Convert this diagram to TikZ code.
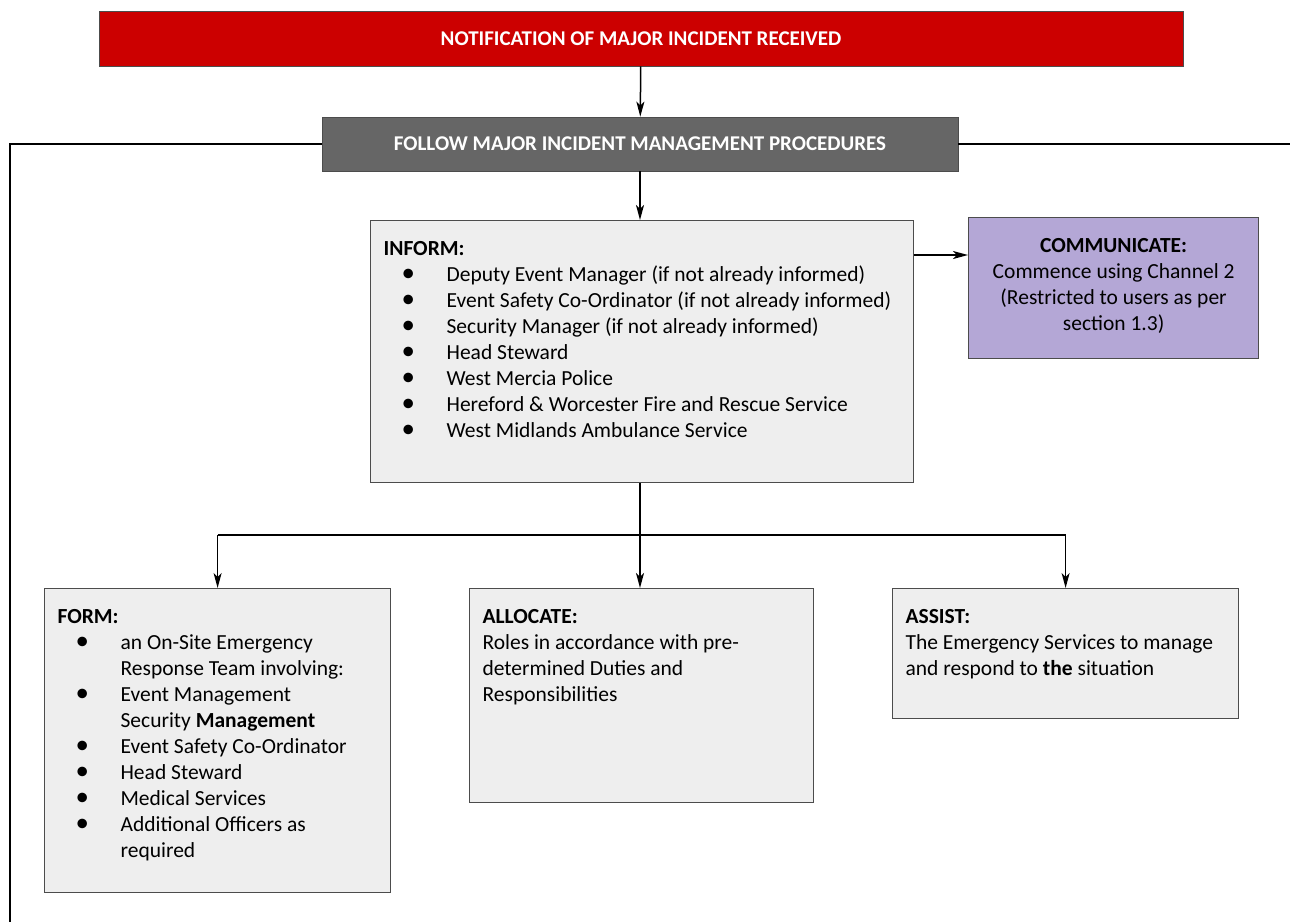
\documentclass[tikz,border=0pt]{standalone}
\usepackage{fontspec}
\setmainfont{Carlito}
\usetikzlibrary{arrows.meta}

\definecolor{alertred}{HTML}{CC0000}
\definecolor{stepgray}{HTML}{666666}
\definecolor{boxgray}{HTML}{EEEEEE}
\definecolor{commpurple}{HTML}{B4A7D6}

\newcommand{\blt}{\par\leftskip=63pt\noindent\llap{\makebox[45pt][l]{\scalebox{1.25}{\textbullet}}}}

\begin{document}
\begin{tikzpicture}[x=1pt,y=-1pt,
    head/.style={draw=black!70, line width=0.8pt, text=white, inner sep=0pt,
        font=\fontsize{21}{24}\selectfont\bfseries},
    box/.style={draw=black!70, line width=1.2pt, fill=boxgray, anchor=north west,
        inner xsep=13pt, inner ysep=21pt, font=\fontsize{21.5}{26}\selectfont},
    arr/.style={-{Stealth[length=15pt,width=8pt,inset=4pt]}, line width=1.5pt},
    link/.style={line width=1.5pt}]
    \useasboundingbox (0,0) rectangle (1290,922);

    % Nodes
    \node[head, fill=alertred, minimum width=1084pt, minimum height=55pt] (notify) at (641,38.5)
        {NOTIFICATION OF MAJOR INCIDENT RECEIVED};
    \node[head, fill=stepgray, minimum width=636pt, minimum height=54pt] (follow) at (640,144)
        {FOLLOW MAJOR INCIDENT MANAGEMENT PROCEDURES};

    \node[box] (inform) at (370,220) {\begin{minipage}[c][220pt][t]{517pt}
        \textbf{INFORM:}
        \blt Deputy Event Manager (if not already informed)
        \blt Event Safety Co-Ordinator (if not already informed)
        \blt Security Manager (if not already informed)
        \blt Head Steward
        \blt West Mercia Police
        \blt Hereford \& Worcester Fire and Rescue Service
        \blt West Midlands Ambulance Service
    \end{minipage}};
    \node[box, fill=commpurple] (communicate) at (968,217) {\begin{minipage}[c][99pt][t]{264pt}
        \centering\textbf{COMMUNICATE:}\\
        Commence using Channel 2\\
        (Restricted to users as per\\
        section 1.3)
    \end{minipage}};

    \node[box] (form) at (44,588) {\begin{minipage}[c][262pt][t]{320pt}
        \textbf{FORM:}
        \blt an On-Site Emergency\\Response Team involving:
        \blt Event Management\\Security \textbf{Management}
        \blt Event Safety Co-Ordinator
        \blt Head Steward
        \blt Medical Services
        \blt Additional Officers as\\required
    \end{minipage}};
    \node[box] (allocate) at (469,588) {\begin{minipage}[c][172pt][t]{318pt}
        \textbf{ALLOCATE:}\\
        Roles in accordance with pre-\\
        determined Duties and\\
        Responsibilities
    \end{minipage}};
    \node[box] (assist) at (892,588) {\begin{minipage}[c][88pt][t]{320pt}
        \textbf{ASSIST:}\\
        The Emergency Services to manage\\
        and respond to \textbf{the} situation
    \end{minipage}};

    \coordinate (split) at (640,535);
    \coordinate (talk) at (0,255);
    \coordinate (leftend) at (10,922);
    \coordinate (rightend) at (1290,144);

    % Edges
    \draw[arr] (notify) -- (follow);
    \draw[arr] (follow) -- (inform.north -| follow);
    \draw[arr] (inform.east |- talk) -- (communicate.west |- talk);
    \draw[link] (follow.west) -| (leftend);
    \draw[link] (follow.east) -- (rightend);

    \draw[link] (inform.south -| split) -- (split);
    \draw[link] (split -| form.north) -- (split -| assist.north);
    \draw[arr] (split -| form.north) -- (form.north);
    \draw[arr] (split) -- (allocate.north -| split);
    \draw[arr] (split -| assist.north) -- (assist.north);
\end{tikzpicture}
\end{document}
